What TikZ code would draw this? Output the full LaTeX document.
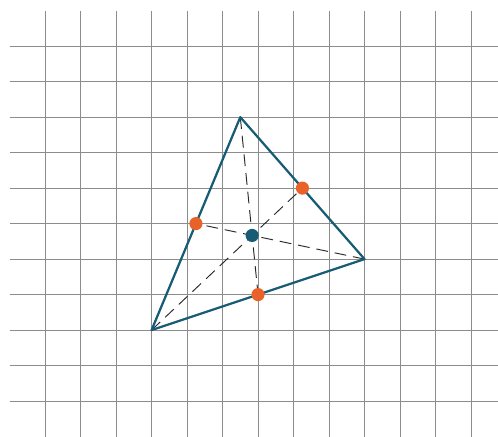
\documentclass[tikz,border=0pt]{standalone}
\usepackage{tikz}
\usetikzlibrary{calc}
\definecolor{teal}{HTML}{175C74}
\definecolor{orng}{HTML}{E8622A}

\begin{document}
\begin{tikzpicture}[
            gridln/.style={draw, gray!90, line width=0.4pt},
            side/.style={draw, teal, line width=1.8pt, line join=round},
            median/.style={draw, black!85, line width=0.75pt, dash pattern=on 9.5pt off 5.5pt},
            mid/.style={circle, fill=orng, minimum size=0.37cm, inner sep=0pt},
            cen/.style={circle, fill=teal, minimum size=0.37cm, inner sep=0pt}
        ]
        \useasboundingbox (-6.27,-6.01) rectangle (7.76,6.30);
        \foreach \x in {-5,...,7}
            \draw[gridln] (\x,-6.01) -- (\x,6);
        \foreach \y in {-5,...,5}
            \draw[gridln] (-6,\y) -- (7.76,\y);
        \coordinate (A) at (0.5,3);
        \coordinate (B) at (4,-1);
        \coordinate (C) at (-2,-3);
        \coordinate (pAB) at ($(A)!0.5!(B)$);
        \coordinate (pBC) at ($(B)!0.5!(C)$);
        \coordinate (pCA) at ($(C)!0.5!(A)$);
        \draw[median] (A) -- (pBC);
        \draw[median] (B) -- (pCA);
        \draw[median] (C) -- (pAB);
        \draw[side] (A) -- (B) -- (C) -- cycle;
        \node[mid] (mAB) at (pAB) {};
        \node[mid] (mBC) at (pBC) {};
        \node[mid] (mCA) at (pCA) {};
        \node[cen] (G) at ($1/3*(A)+1/3*(B)+1/3*(C)$) {};
    \end{tikzpicture}
\end{document}
